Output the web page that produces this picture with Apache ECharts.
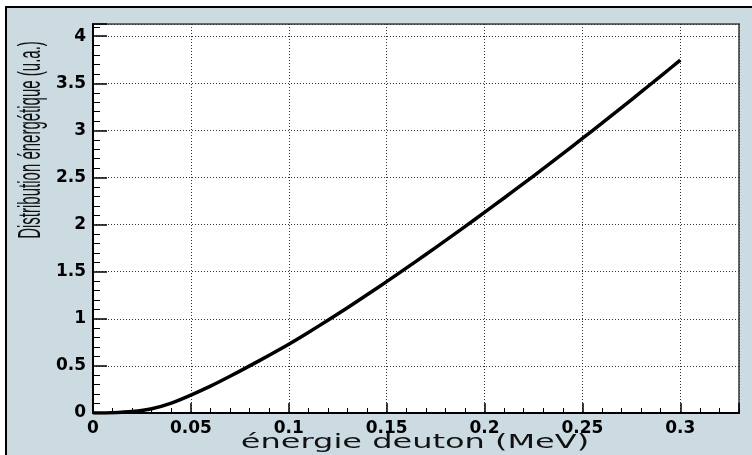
<!DOCTYPE html>
<html>
<head>
<meta charset="utf-8">
<script src="https://cdn.jsdelivr.net/npm/echarts@6/dist/echarts.min.js"></script>
<style>
  html, body { margin: 0; padding: 0; background: #fff; }
  #main { width: 752px; height: 455px; }
</style>
</head>
<body>
<div id="main"></div>
<script>
// énergie deuton (MeV)
var energie = [0, 0.01, 0.02, 0.03, 0.04, 0.05, 0.06, 0.07, 0.08, 0.09,
  0.10, 0.11, 0.12, 0.13, 0.14, 0.15, 0.16, 0.17, 0.18, 0.19,
  0.20, 0.21, 0.22, 0.23, 0.24, 0.25, 0.26, 0.27, 0.28, 0.29, 0.30];
// distribution énergétique (u.a.)
var distribution = [0, 0.003, 0.015, 0.045, 0.105, 0.19, 0.285, 0.39, 0.5, 0.613,
  0.73, 0.855, 0.985, 1.118, 1.255, 1.395, 1.538, 1.683, 1.83, 1.979,
  2.13, 2.283, 2.438, 2.594, 2.753, 2.915, 3.077, 3.242, 3.409, 3.577, 3.746];
var xTitle = 'énergie deuton (MeV)';
var yTitle = 'Distribution énergétique (u.a.)';

var points = [];
for (var i = 0; i < energie.length; i++) {
  points.push([energie[i], distribution[i]]);
}

var chart = echarts.init(document.getElementById('main'));
chart.setOption({
  animation: false,
  backgroundColor: '#fff',
  grid: {
    left: 93, right: 13, top: 24, bottom: 42,
    outerBoundsMode: 'none',
    show: true,
    backgroundColor: '#fff',
    borderColor: '#666',
    borderWidth: 2
  },
  graphic: [
    {
      type: 'rect', z: -10, silent: true,
      shape: { x: 6, y: 7, width: 800, height: 500 },
      style: { fill: '#ccdbe2', stroke: '#000', lineWidth: 2 }
    },
    {
      type: 'text', x: 415, y: 443, scaleX: 1.6,
      style: {
        text: xTitle, font: '20px "DejaVu Sans"', fill: '#111',
        align: 'center', verticalAlign: 'middle'
      }
    },
    {
      type: 'text', x: 31, y: 140, rotation: Math.PI / 2, scaleY: 2.1,
      style: {
        text: yTitle, font: '15px "Liberation Sans"', fill: '#111',
        align: 'center', verticalAlign: 'middle'
      }
    }
  ],
  xAxis: {
    type: 'value',
    min: 0, max: 0.33, interval: 0.05,
    axisLine: { show: true, onZero: false, lineStyle: { color: '#000', width: 2 } },
    axisTick: { show: true, inside: true, length: 10, lineStyle: { color: '#000', width: 1.5 } },
    minorTick: { show: true, splitNumber: 5, length: 5, lineStyle: { color: '#000', width: 1 } },
    splitLine: { show: true, lineStyle: { color: '#333', type: [1, 2], width: 1 } },
    axisLabel: {
      color: '#000', fontFamily: 'DejaVu Sans', fontWeight: 'bold', fontSize: 17, margin: 7,
      showMaxLabel: false,
      formatter: function (v) { return String(+v.toFixed(2)); }
    }
  },
  yAxis: {
    type: 'value',
    min: 0, max: 4.13, interval: 0.5,
    axisLine: { show: true, onZero: false, lineStyle: { color: '#000', width: 2 } },
    axisTick: { show: true, inside: true, length: 14, lineStyle: { color: '#000', width: 1.5 } },
    minorTick: { show: true, splitNumber: 5, length: 7, lineStyle: { color: '#000', width: 1 } },
    splitLine: { show: true, lineStyle: { color: '#333', type: [1, 2], width: 1 } },
    axisLabel: {
      color: '#000', fontFamily: 'DejaVu Sans', fontWeight: 'bold', fontSize: 17, margin: 7,
      formatter: function (v) { return String(+v.toFixed(2)); }
    }
  },
  series: [
    {
      name: 'distribution',
      type: 'line',
      data: points,
      symbol: 'none',
      smooth: 0.2,
      lineStyle: { color: '#000', width: 3.5, join: 'round' },
      z: 5
    }
  ]
});
</script>
</body>
</html>
